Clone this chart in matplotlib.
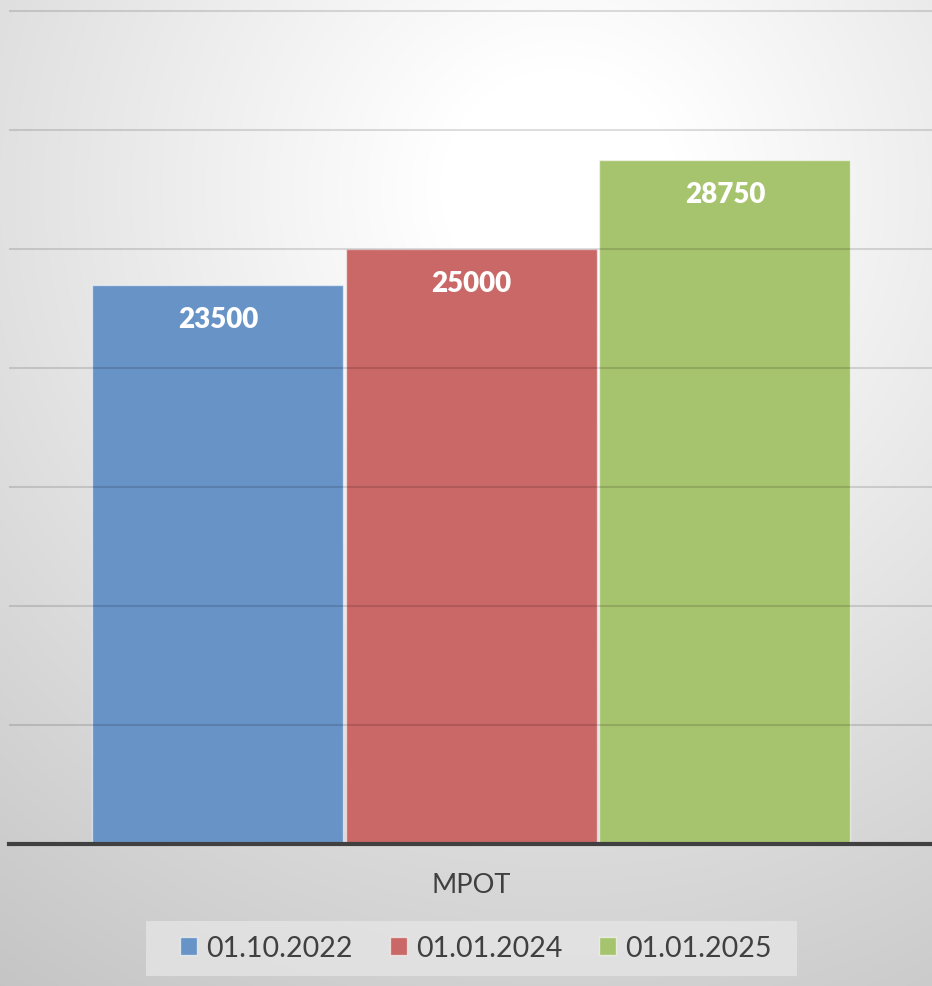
import matplotlib
matplotlib.use('Agg')
import matplotlib.pyplot as plt
import numpy as np
from matplotlib.patches import Patch, Rectangle

plt.rcParams['font.family'] = ['Lato', 'Open Sans', 'DejaVu Sans']

# data
category = 'МРОТ'
series = ['01.10.2022', '01.01.2024', '01.01.2025']
values = [23500, 25000, 28750]
colors = ['#6893c7', '#c96866', '#a6c36e']

W, H = 932, 987
fig = plt.figure(figsize=(W / 100, H / 100), dpi=100)

# radial gradient background
bg = fig.add_axes([0, 0, 1, 1], zorder=-2)
yy, xx = np.mgrid[0:H, 0:W]
d = np.sqrt((xx - 560) ** 2 + (yy - 190) ** 2)
v = 1 - 0.23 * np.clip((d - 120) / 860, 0, 1)
bg.imshow(np.dstack([v, v, v]), aspect='auto', extent=[0, W, H, 0])
bg.add_patch(Rectangle((146, 922), 651, 55, facecolor='#e6e6e6', alpha=0.75,
                       edgecolor='none'))
bg.axis('off')

ax = fig.add_axes([9 / W, (H - 845) / H, (W - 9) / W, 845 / H])
ax.set_facecolor('none')

x = np.arange(len(values))
bars = ax.bar(x, values, width=0.99, color=colors,
              edgecolor=(1, 1, 1, 0.55), linewidth=1, zorder=2)

for xi, val in zip(x, values):
    ax.annotate(str(val), (xi, val), xytext=(0, -24.5), textcoords='offset points',
                ha='center', va='center', color='white', fontsize=20,
                fontweight='heavy', zorder=5)

ax.set_xlim(-0.824, 2.817)
ax.set_ylim(0, 35504)
ax.set_yticks(np.arange(5000, 35001, 5000))
ax.set_axisbelow(False)
ax.yaxis.grid(True, color='black', alpha=0.13, linewidth=1.5)
ax.tick_params(left=False, bottom=False, labelleft=False, labelbottom=False)
for s in ['top', 'right', 'left']:
    ax.spines[s].set_visible(False)
ax.spines['bottom'].set_color('#404040')
ax.spines['bottom'].set_linewidth(3)
ax.spines['bottom'].set_zorder(6)

fig.text(471 / W, 1 - 886 / H, category, ha='center', va='center',
         fontsize=19.5, color='#404040')

handles = [Patch(facecolor=c, edgecolor=(1, 1, 1, 0.6)) for c in colors]
leg = fig.legend(handles, series, loc='center', bbox_to_anchor=(476 / W, 1 - 949 / H),
                 ncol=3, fontsize=20.5, frameon=False,
                 handlelength=0.6, handleheight=0.6, handletextpad=0.32,
                 columnspacing=1.3, borderpad=0.3)
for t in leg.get_texts():
    t.set_color('#404040')

fig.savefig('out.png', dpi=100)
